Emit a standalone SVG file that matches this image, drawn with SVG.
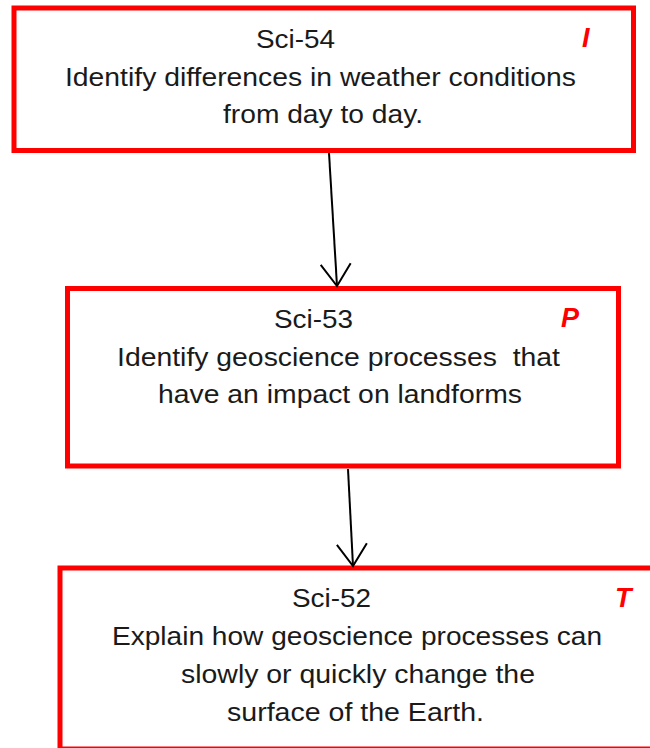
<svg xmlns="http://www.w3.org/2000/svg" width="650" height="748" viewBox="0 0 650 748">
  <defs>
    <style>
      .box { fill: #ffffff; stroke: #ff0000; stroke-width: 5; }
      .t { font-family: "Liberation Sans", Arial, sans-serif; font-size: 26.5px; fill: #1a1a1a; }
      .lvl { font-family: "Liberation Sans", Arial, sans-serif; font-size: 27px; font-weight: bold; font-style: italic; fill: #ff0000; }
      .conn { fill: none; stroke: #000000; stroke-width: 2; }
    </style>
    <marker id="open" markerUnits="userSpaceOnUse" markerWidth="30" markerHeight="40" viewBox="-25 -20 30 40" refX="0" refY="0" orient="auto">
      <path d="M -22,-15 L 0,0 L -22,15" fill="none" stroke="#000000" stroke-width="2"/>
    </marker>
  </defs>
  <rect width="650" height="748" fill="#ffffff"/>

  <g id="sci-54">
    <rect class="box" x="14" y="8" width="619.5" height="142.5"/>
    <text class="t" x="256" y="48" textLength="79" lengthAdjust="spacingAndGlyphs">Sci-54</text>
    <text class="lvl" x="582" y="47">I</text>
    <text class="t" x="65" y="86" textLength="511" lengthAdjust="spacingAndGlyphs">Identify differences in weather conditions</text>
    <text class="t" x="223" y="123" textLength="200" lengthAdjust="spacingAndGlyphs">from day to day.</text>
  </g>

  <g id="sci-53">
    <rect class="box" x="67.5" y="288.5" width="551" height="177.5"/>
    <text class="t" x="274" y="328" textLength="79" lengthAdjust="spacingAndGlyphs">Sci-53</text>
    <text class="lvl" x="561" y="327">P</text>
    <text class="t" x="117" y="366" textLength="443" lengthAdjust="spacingAndGlyphs" xml:space="preserve">Identify geoscience processes  that</text>
    <text class="t" x="158" y="403" textLength="364" lengthAdjust="spacingAndGlyphs">have an impact on landforms</text>
  </g>

  <g id="sci-52">
    <rect class="box" x="60" y="568" width="610" height="181"/>
    <text class="t" x="292" y="607" textLength="79" lengthAdjust="spacingAndGlyphs">Sci-52</text>
    <text class="lvl" x="615" y="607">T</text>
    <text class="t" x="112" y="645" textLength="490" lengthAdjust="spacingAndGlyphs">Explain how geoscience processes can</text>
    <text class="t" x="181" y="683" textLength="354" lengthAdjust="spacingAndGlyphs">slowly or quickly change the</text>
    <text class="t" x="227" y="721" textLength="257" lengthAdjust="spacingAndGlyphs">surface of the Earth.</text>
  </g>

  <g id="connectors">
    <path class="conn" d="M 329,153 L 337,286" marker-end="url(#open)"/>
    <path class="conn" d="M 348,469 L 353,566" marker-end="url(#open)"/>
  </g>
</svg>
